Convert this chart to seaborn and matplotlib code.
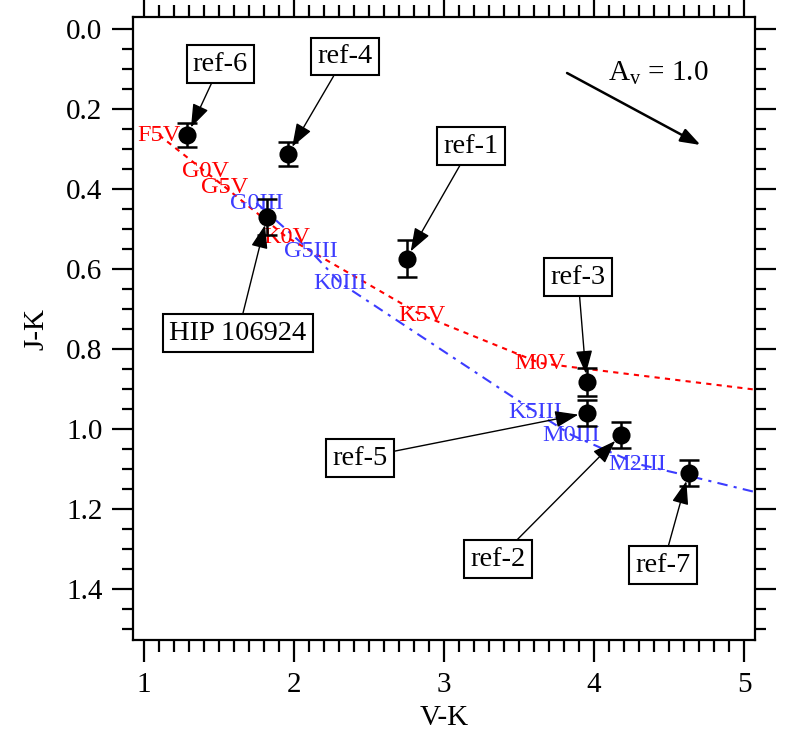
import matplotlib
matplotlib.use('Agg')
import matplotlib.pyplot as plt
import seaborn as sns
import pandas as pd
from matplotlib.ticker import MultipleLocator

# intrinsic colours of dwarfs (red dotted) and giants (blue dash-dot)
dwarf_vk = [1.10, 1.41, 1.54, 1.95, 2.85, 3.64, 3.87, 4.11, 4.65, 5.28]
dwarf_jk = [0.265, 0.357, 0.395, 0.52, 0.715, 0.835, 0.846, 0.857, 0.882, 0.911]
dwarf_lbl = ['F5V', 'G0V', 'G5V', 'K0V', 'K5V', 'M0V', '', '', '', '']

giant_vk = [1.75, 2.11, 2.31, 3.61, 3.85, 4.29, 4.64, 5.10]
giant_jk = [0.435, 0.555, 0.635, 0.9575, 1.015, 1.0875, 1.118, 1.16]
giant_lbl = ['G0III', 'G5III', 'K0III', 'K5III', 'M0III', 'M2III', '', '']

# observed stars
names = ['ref-6', 'ref-4', 'HIP 106924', 'ref-1', 'ref-3', 'ref-5', 'ref-2', 'ref-7']
vk = [1.29, 1.96, 1.82, 2.75, 3.95, 3.95, 4.18, 4.63]
jk = [0.265, 0.3125, 0.47, 0.574, 0.8825, 0.96, 1.015, 1.11]
jk_err = [0.03, 0.031, 0.045, 0.047, 0.035, 0.033, 0.033, 0.033]
box_vk = [1.51, 2.34, 1.627, 3.18, 3.893, 2.44, 3.36, 4.46]
box_jk = [0.0875, 0.069, 0.76, 0.2925, 0.62, 1.0725, 1.325, 1.34]

# reddening vector for A_v = 1
av_start = (3.82, 0.11)
av_end = (4.71, 0.29)

sns.set_theme(style='ticks')
plt.rcParams['font.family'] = ['Liberation Serif', 'DejaVu Serif']
plt.rcParams['mathtext.fontset'] = 'custom'
plt.rcParams['mathtext.rm'] = 'Liberation Serif'
plt.rcParams['text.color'] = 'black'
plt.rcParams['axes.labelcolor'] = 'black'

red = '#ff0000'
blue = '#3c3cff'

fig = plt.figure(figsize=(8.09, 7.36), dpi=100)
ax = fig.add_axes([0.1644, 0.1304, 0.7689, 0.8465])

dwarfs = pd.DataFrame({'vk': dwarf_vk, 'jk': dwarf_jk})
giants = pd.DataFrame({'vk': giant_vk, 'jk': giant_jk})
sns.lineplot(data=dwarfs, x='vk', y='jk', sort=False, color=red, lw=1.5,
             ax=ax, zorder=2)
ax.lines[-1].set_linestyle((0, (2.5, 2.5)))
sns.lineplot(data=giants, x='vk', y='jk', sort=False, color=blue, lw=1.5,
             ax=ax, zorder=2)
ax.lines[-1].set_linestyle((0, (5, 3, 1.5, 3)))

for x, y, s in zip(dwarf_vk, dwarf_jk, dwarf_lbl):
    if s:
        ax.text(x, y, s, color=red, fontsize=17.5, ha='center', va='center', zorder=3)
for x, y, s in zip(giant_vk, giant_jk, giant_lbl):
    if s:
        ax.text(x, y, s, color=blue, fontsize=17.5, ha='center', va='center', zorder=3)

ax.errorbar(vk, jk, yerr=jk_err, fmt='none', ecolor='black', elinewidth=1.8,
            capsize=7, capthick=1.8, zorder=4)
stars = pd.DataFrame({'vk': vk, 'jk': jk})
sns.scatterplot(data=stars, x='vk', y='jk', color='black', s=170,
                edgecolor='black', linewidth=0, ax=ax, zorder=5)

for n, x, y, bx, by in zip(names, vk, jk, box_vk, box_jk):
    ax.annotate(n, xy=(x, y), xytext=(bx, by), fontsize=20.5, color='black',
                ha='center', va='center', zorder=6,
                bbox=dict(boxstyle='square,pad=0.22', fc='white', ec='black', lw=1.5),
                arrowprops=dict(arrowstyle='-|>,head_length=0.7,head_width=0.25',
                                color='black', lw=1, shrinkA=0, shrinkB=6))

ax.annotate('', xy=av_end, xytext=av_start,
            arrowprops=dict(arrowstyle='-|>,head_length=1.0,head_width=0.35',
                            color='black', lw=1.8, shrinkA=0, shrinkB=0))
ax.text(4.09, 0.1275, r'A$_{\rm v}$ = 1.0', fontsize=21, color='black',
        ha='left', va='baseline')

ax.set_xlim(0.927, 5.073)
ax.set_ylim(1.5275, -0.03)
ax.xaxis.set_major_locator(MultipleLocator(1))
ax.xaxis.set_minor_locator(MultipleLocator(0.1))
ax.yaxis.set_major_locator(MultipleLocator(0.2))
ax.yaxis.set_minor_locator(MultipleLocator(0.05))
ax.yaxis.set_major_formatter(matplotlib.ticker.FormatStrFormatter('%.1f'))

ax.tick_params(which='both', direction='out', top=True, right=True,
               labeltop=False, labelright=False, width=1.6, colors='black',
               labelsize=21)
ax.tick_params(axis='x', which='major', length=16, pad=7)
ax.tick_params(axis='x', which='minor', length=8.5)
ax.tick_params(axis='y', which='major', length=15, pad=7)
ax.tick_params(axis='y', which='minor', length=8)
for sp in ax.spines.values():
    sp.set_visible(True)
    sp.set_linewidth(1.6)
    sp.set_color('black')

ax.set_xlabel('V-K', fontsize=21, labelpad=5)
ax.set_ylabel('J-K', fontsize=21, labelpad=12)

fig.savefig('out.png', dpi=100)
